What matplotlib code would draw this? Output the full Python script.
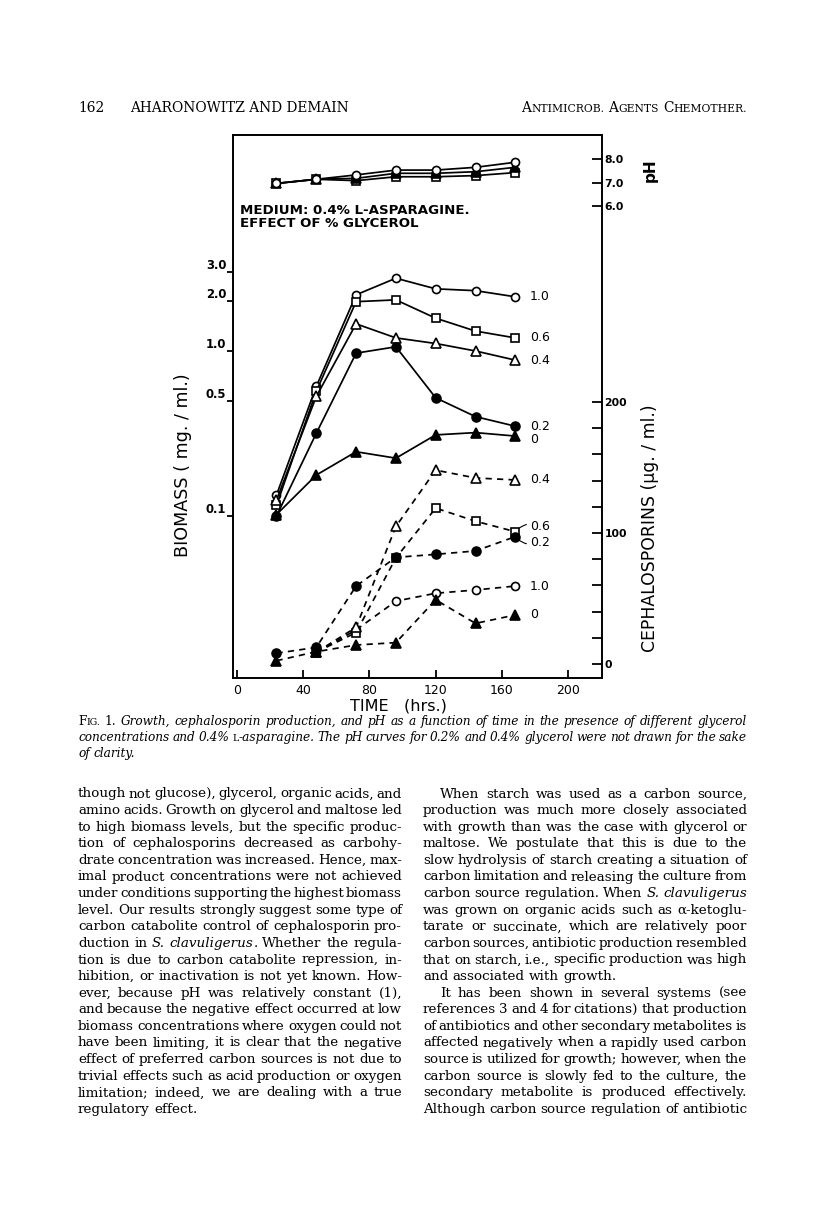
import numpy as np
import matplotlib
matplotlib.use('Agg')
import matplotlib.pyplot as plt
from matplotlib.ticker import FixedLocator, NullLocator

# values
hours = [24, 48, 72, 96, 120, 144, 168]
glycerol = ['1.0', '0.6', '0.4', '0.2', '0']

# biomass (mg/ml), solid curves
bio_10 = [0.134, 0.61, 2.19, 2.76, 2.38, 2.32, 2.13]
bio_06 = [0.116, 0.57, 1.99, 2.04, 1.58, 1.32, 1.20]
bio_04 = [0.125, 0.53, 1.46, 1.20, 1.11, 1.00, 0.88]
bio_02 = [0.100, 0.317, 0.97, 1.06, 0.52, 0.40, 0.35]
bio_00 = [0.102, 0.177, 0.245, 0.224, 0.31, 0.32, 0.305]

# cephalosporins (ug/ml), dashed curves
ceph_10 = [np.nan, 9, 26, 48, 54, 56.5, 59.5]
ceph_06 = [np.nan, 9, 24, 81, 119, 109, 101]
ceph_04 = [np.nan, 9, 28, 105, 148, 142, 140.5]
ceph_02 = [8.2, 12.7, 59.5, 81.4, 83.7, 86.3, 97.2]
ceph_00 = [2.5, 9.4, 14.5, 16.3, 49, 31, 37.4]

# pH (0.2 and 0.4 % not drawn)
ph_06 = [6.96, 7.14, 7.08, 7.25, 7.25, 7.30, 7.43]
ph_00 = [6.96, 7.14, 7.18, 7.40, 7.40, 7.47, 7.66]
ph_10 = [6.96, 7.14, 7.33, 7.54, 7.54, 7.66, 7.88]

bio = dict(zip(glycerol, [bio_10, bio_06, bio_04, bio_02, bio_00]))
ceph = dict(zip(glycerol, [ceph_10, ceph_06, ceph_04, ceph_02, ceph_00]))
ph = {'0.6': ph_06, '0': ph_00, '1.0': ph_10}

header_left = ['162', 'AHARONOWITZ AND DEMAIN']
header_right = '^ANTIMICROB. ^AGENTS ^CHEMOTHER.'

caption = [
    '^FIG. ~1. Growth, cephalosporin production, and pH as a function of time in the presence of different glycerol',
    'concentrations and 0.4% %L|-asparagine. The pH curves for 0.2% and 0.4% glycerol were not drawn for the sake',
    'of clarity.',
]

left_col = [
    'though not glucose), glycerol, organic acids, and',
    'amino acids. Growth on glycerol and maltose led',
    'to high biomass levels, but the specific produc-',
    'tion of cephalosporins decreased as carbohy-',
    'drate concentration was increased. Hence, max-',
    'imal product concentrations were not achieved',
    'under conditions supporting the highest biomass',
    'level. Our results strongly suggest some type of',
    'carbon catabolite control of cephalosporin pro-',
    'duction in _S. _clavuligerus|~. Whether the regula-',
    'tion is due to carbon catabolite repression, in-',
    'hibition, or inactivation is not yet known. How-',
    'ever, because pH was relatively constant (1),',
    'and because the negative effect occurred at low',
    'biomass concentrations where oxygen could not',
    'have been limiting, it is clear that the negative',
    'effect of preferred carbon sources is not due to',
    'trivial effects such as acid production or oxygen',
    'limitation; indeed, we are dealing with a true',
    'regulatory effect.',
]
right_col = [
    'When starch was used as a carbon source,',
    'production was much more closely associated',
    'with growth than was the case with glycerol or',
    'maltose. We postulate that this is due to the',
    'slow hydrolysis of starch creating a situation of',
    'carbon limitation and releasing the culture from',
    'carbon source regulation. When _S. _clavuligerus',
    'was grown on organic acids such as \u03b1-ketoglu-',
    'tarate or succinate, which are relatively poor',
    'carbon sources, antibiotic production resembled',
    'that on starch, i.e., specific production was high',
    'and associated with growth.',
    'It has been shown in several systems (see',
    'references 3 and 4 for citations) that production',
    'of antibiotics and other secondary metabolites is',
    'affected negatively when a rapidly used carbon',
    'source is utilized for growth; however, when the',
    'carbon source is slowly fed to the culture, the',
    'secondary metabolite is produced effectively.',
    'Although carbon source regulation of antibiotic',
]
left_last = {19}
right_indent = {0, 12}
right_last = {11}

W, H = 816, 1223
fig = plt.figure(figsize=(W / 100, H / 100), dpi=100, facecolor='white')
renderer = fig.canvas.get_renderer()
SERIF = 'DejaVu Serif'
SANS = 'DejaVu Sans'
SC = 0.78


def fx(x):
    return x / W


def fy(y):
    return 1 - y / H


_cache = {}


def run_w(s, size, style):
    key = (s, round(size, 3), style)
    if key not in _cache:
        t = fig.text(0, 0, s, fontsize=size, family=SERIF, style=style)
        _cache[key] = t.get_window_extent(renderer).width
        t.remove()
    return _cache[key]


def parse(token, base):
    runs = []
    for seg in token.split('|'):
        if seg.startswith('_'):
            runs.append((seg[1:], 1.0, 'normal' if base == 'italic' else 'italic'))
        elif seg.startswith('^'):
            seg = seg[1:]
            runs.append((seg[0], 1.0, 'normal'))
            if seg[1:]:
                runs.append((seg[1:], SC, 'normal'))
        elif seg.startswith('%'):
            runs.append((seg[1:], SC, 'normal'))
        elif seg.startswith('~'):
            runs.append((seg[1:], 1.0, 'normal'))
        else:
            runs.append((seg, 1.0, base))
    return runs


def line_widths(line, size, base):
    toks = [parse(t, base) for t in line.split()]
    ws = [sum(run_w(s, size * m, st) for s, m, st in tk) for tk in toks]
    return toks, ws


def space_w(size):
    return 0.318 * size * 100 / 72


def fit_size(lines, width, base, size0=9.0):
    # size so a typical line fills the column; the longest lines just get tighter spaces
    nat, ink = [], []
    for ln in lines:
        _, ws = line_widths(ln, size0, base)
        nat.append(sum(ws) + space_w(size0) * (len(ws) - 1))
        ink.append(sum(ws) + 0.45 * space_w(size0) * (len(ws) - 1))
    return size0 * min(width / np.median(nat), width / max(ink))


def draw_line(line, x0, x1, y, size, base='normal', justify=True, align='left'):
    toks, ws = line_widths(line, size, base)
    n = len(toks)
    gap = space_w(size)
    if justify and n > 1:
        gap = (x1 - x0 - sum(ws)) / (n - 1)
    x = x0
    if align == 'right':
        x = x1 - sum(ws) - gap * (n - 1)
    for tk, w in zip(toks, ws):
        xx = x
        for s, m, st in tk:
            fig.text(fx(xx), fy(y), s, fontsize=size * m, family=SERIF, style=st,
                     ha='left', va='baseline')
            xx += run_w(s, size * m, st)
        x += w + gap


# ---- page text ----
LX0, LX1 = 78, 402
RX0, RX1 = 423, 747
INDENT = 17
BASE0, LEAD = 797.5, 16.6

body_size = fit_size(left_col[:-1] + right_col[1:11], LX1 - LX0, 'normal')
for i, ln in enumerate(left_col):
    draw_line(ln, LX0, LX1, BASE0 + i * LEAD, body_size, justify=i not in left_last)
for i, ln in enumerate(right_col):
    x0 = RX0 + (INDENT if i in right_indent else 0)
    draw_line(ln, x0, RX1, BASE0 + i * LEAD, body_size, justify=i not in right_last)

cap_size = fit_size(caption[:2], RX1 - LX0, 'italic')
for i, ln in enumerate(caption):
    draw_line(ln, LX0, RX1, 725 + i * 16, cap_size, base='italic', justify=i < 2)

hdr_size = 9.9
fig.text(fx(LX0), fy(112), header_left[0], fontsize=hdr_size, family=SERIF, va='baseline')
fig.text(fx(130), fy(112), header_left[1], fontsize=hdr_size, family=SERIF, va='baseline')
draw_line(header_right, 500, RX1, 112, hdr_size, justify=False, align='right')

# ---- chart ----
ax = fig.add_axes([233.3 / W, 1 - 678 / H, 368.4 / W, 543 / H])
ax.set_yscale('log')
ax.set_xlim(-2.05, 220.1)
ax.set_ylim(0.01042, 20.37)
ax2 = ax.twinx()
ax2.set_ylim(-10.69, 403.8)
ax3 = ax.twinx()
ax3.set_ylim(-14.54, 9.065)

for a in (ax2, ax3):
    for sp in a.spines.values():
        sp.set_visible(False)
for sp in ax.spines.values():
    sp.set_linewidth(1.4)

mk = {'1.0': ('o', 'white', 5.8), '0.6': ('s', 'white', 5.4), '0.4': ('^', 'white', 6.8),
      '0.2': ('o', 'black', 6.4), '0': ('^', 'black', 6.8)}


def style(g):
    m, fc, ms = mk[g]
    return dict(marker=m, mfc=fc, mec='black', ms=ms, mew=1.2, color='black', lw=1.25)


for g in glycerol:
    ax.plot(hours, bio[g], ls='-', **style(g))
    ax2.plot(hours, ceph[g], ls=(0, (3.6, 3.0)), **style(g))
for g in ['0.6', '0', '1.0']:
    ax3.plot(hours, ph[g], ls='-', **style(g))

lab_kw = dict(textcoords='offset points', va='center', ha='left', fontsize=9, family=SANS)
for g in glycerol:
    ax.annotate(g, xy=(hours[-1], bio[g][-1]), xytext=(10.5, -2.5 if g == '0' else 0), **lab_kw)
for g in ['0.4', '1.0', '0']:
    ax2.annotate(g, xy=(hours[-1], ceph[g][-1]), xytext=(10.5, 0), **lab_kw)
for g, dy in [('0.6', 4), ('0.2', -4)]:
    ax2.annotate(g, xy=(hours[-1], ceph[g][-1]), xytext=(11, dy),
                 arrowprops=dict(arrowstyle='-', lw=0.8, color='black', shrinkA=1, shrinkB=3,
                                 connectionstyle='arc3,rad=%s' % (0.35 if dy > 0 else -0.35)),
                 **lab_kw)

# x axis
ax.set_xticks([0, 40, 80, 120, 160, 200])
ax.tick_params(axis='x', direction='in', length=6, width=1.3, labelsize=9, pad=4, top=False)
# biomass axis
ax.yaxis.set_major_locator(FixedLocator([0.1, 0.5, 1.0, 2.0, 3.0]))
ax.yaxis.set_minor_locator(NullLocator())
ax.set_yticklabels(['0.1', '0.5', '1.0', '2.0', '3.0'])
ax.tick_params(axis='y', direction='out', length=4, width=1.3, labelsize=8.4, pad=1, right=False)
plt.setp(ax.get_yticklabels(), fontweight='bold', va='bottom')
# cephalosporin axis
minor_c = [v for v in range(20, 200, 20) if v != 100]
ax2.set_yticks([0, 100, 200])
ax2.set_yticks(minor_c, minor=True)
ax2.set_yticklabels(['0', '100', '200'])
ax2.tick_params(axis='y', which='both', direction='in', length=7.5, width=1.3, labelsize=7.8, pad=2)
plt.setp(ax2.get_yticklabels(), fontweight='bold')
# pH axis
ax3.set_yticks([6, 7, 8])
ax3.set_yticklabels(['6.0', '7.0', '8.0'])
ax3.yaxis.set_minor_locator(NullLocator())
ax3.tick_params(axis='y', direction='in', length=7.5, width=1.3, labelsize=7.8, pad=2)
plt.setp(ax3.get_yticklabels(), fontweight='bold')

fig.text(fx(240), fy(210), 'MEDIUM: 0.4% L-ASPARAGINE.', fontsize=9.6, fontweight='bold',
         family=SANS, va='center')
fig.text(fx(240), fy(223.5), 'EFFECT OF % GLYCEROL', fontsize=9.6, fontweight='bold',
         family=SANS, va='center')
fig.text(fx(183), fy(465), 'BIOMASS ( mg. / ml.)', rotation=90, fontsize=12.6,
         family=SANS, ha='center', va='center')
fig.text(fx(650), fy(528), 'CEPHALOSPORINS (\u00b5g. / ml.)', rotation=90, fontsize=12.4,
         family=SANS, ha='center', va='center')
fig.text(fx(650), fy(170), 'pH', rotation=90, fontsize=11, fontweight='bold',
         family=SANS, ha='center', va='center')
fig.text(fx(398), fy(706), 'TIME   (hrs.)', fontsize=11.5, family=SANS, ha='center', va='center')

fig.savefig('out.png', dpi=100, facecolor='white')
